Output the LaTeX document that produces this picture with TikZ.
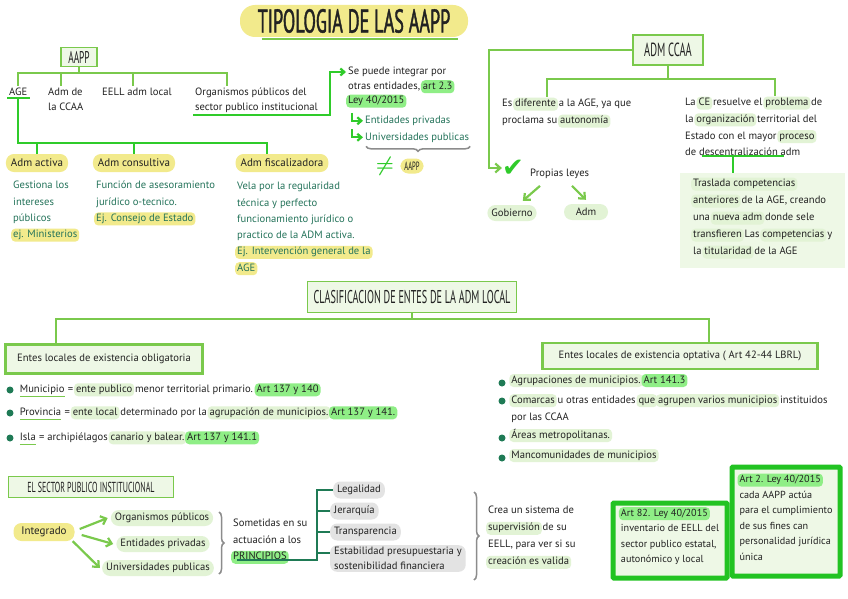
\documentclass[tikz,border=0pt]{standalone}
\usepackage{fontspec}
\setmainfont{PT Sans}
\newfontfamily\headfont[FakeStretch=0.55]{PT Sans}
\newfontfamily\titlefont[FakeStretch=0.55, FakeBold=1.2]{PT Sans}
\newfontfamily\symfont{DejaVu Sans}
\usetikzlibrary{positioning, arrows.meta, calc, decorations.pathreplacing}

\definecolor{lgreen}{HTML}{7AC94C}
\definecolor{bgreen}{HTML}{2FCB2A}
\definecolor{artgreen}{HTML}{22C322}
\definecolor{paleg}{HTML}{EEF8E6}
\definecolor{hlpale}{HTML}{E2F3D5}
\definecolor{hlbright}{HTML}{8FEE86}
\definecolor{pyellow}{HTML}{F2EA8C}
\definecolor{greyhl}{HTML}{E3E3E3}
\definecolor{tealtxt}{HTML}{24735A}
\definecolor{treeline}{HTML}{1F7A55}
\definecolor{bracegrey}{HTML}{8C8C8C}
\definecolor{inkblack}{HTML}{222222}

\newcommand{\bodysize}[1]{\fontsize{10.6}{#1}\selectfont}

\tikzset{
  hlbox/.style={draw=none, inner xsep=2pt, inner ysep=1.5pt, outer sep=0pt,
    rounded corners=4pt, minimum width=0pt, minimum height=0pt,
    text height=7.5pt, text depth=2.5pt, anchor=base},
}
% highlighted words
\newcommand{\hlp}[1]{\hspace{-2pt}\smash{\tikz[baseline=(X.base)]\node[hlbox, fill=hlpale](X){#1};}\hspace{-2pt}}
\newcommand{\hlb}[1]{\hspace{-2pt}\smash{\tikz[baseline=(X.base)]\node[hlbox, fill=hlbright](X){#1};}\hspace{-2pt}}
\newcommand{\hly}[1]{\hspace{-2pt}\smash{\tikz[baseline=(X.base)]\node[hlbox, fill=pyellow](X){#1};}\hspace{-2pt}}
\newcommand{\gul}[1]{\tikz[baseline=(X.base)]{\node[hlbox, inner xsep=0pt, fill=none](X){#1};
  \draw[lgreen, line width=1pt] (X.south west) -- (X.south east);}}

\begin{document}
\begin{tikzpicture}[x=1pt, y=1pt,
  txt/.style={inner sep=2pt, align=left, font=\bodysize{16}, text=inkblack},
  title_pill/.style={fill=pyellow, rounded corners=15pt, minimum width=228pt, minimum height=32pt,
                     font=\titlefont\fontsize{33}{33}\selectfont, text=inkblack},
  gbox/.style={draw=lgreen, fill=paleg, line width=1.8pt, inner sep=3pt, text=inkblack},
  gbox_body/.style={gbox, line width=2.2pt, font=\bodysize{12}},
  pill/.style={fill=pyellow, rounded corners=8pt, inner xsep=5pt, inner ysep=2pt, minimum height=18pt,
               font=\fontsize{11}{12}\selectfont, text=inkblack},
  pill_pale/.style={pill, fill=hlpale, inner xsep=4pt, minimum height=16pt, font=\bodysize{12}},
  pill_grey/.style={pill, fill=greyhl, inner xsep=4pt, minimum height=17pt, rounded corners=7pt,
                    font=\bodysize{15}},
  artbox/.style={draw=artgreen, line width=5pt, fill=paleg, inner xsep=7pt, inner ysep=6pt, align=left,
                 font=\fontsize{10.2}{15.5}\selectfont, text=inkblack, rounded corners=1pt},
  dot/.style={circle, fill=treeline, inner sep=0pt, minimum size=7pt},
  bus/.style={draw=lgreen, line width=2pt},
  bline/.style={draw=bgreen, line width=2.2pt},
  arrb/.style={bline, -{Straight Barb[length=4pt, width=7pt]}},
  arrl/.style={draw=lgreen, line width=2.2pt, -{Straight Barb[length=5pt, width=9pt]}},
  tree/.style={draw=treeline, line width=2pt},
  gbrace/.style={draw=bracegrey, line width=1.5pt, decorate, decoration={brace, amplitude=5pt}},
]
\fill[white] (0,0) rectangle (848,-599);
\useasboundingbox (0,0) rectangle (848,-599);

% Title
\node[title_pill] (t0) at (354,-21) {TIPOLOGIA DE LAS AAPP};
\draw[lgreen, line width=2.5pt] ([xshift=22pt, yshift=-2pt]t0.south west) -- ([xshift=-10pt, yshift=-2pt]t0.south east);

% AAPP and its four branches
\node[gbox, font=\headfont\fontsize{17}{17}\selectfont, minimum width=36pt, minimum height=19pt] (a0) at (79,-57) {AAPP};
\node[txt, anchor=base west] (a1) at (7,-95.5) {AGE};
\node[txt, anchor=north west, font=\bodysize{14.5}] (a2) at (46,-86) {Adm de\\la CCAA};
\node[txt, anchor=base west] (a3) at (100,-95.5) {EELL adm local};
\node[txt, anchor=north west, font=\bodysize{15}] (a4) at (193,-86) {Organismos públicos del\\sector publico institucional};

\draw[bus] (a0.south) -- ++(0,-6) -| (a1.north);
\draw[bus] (a0.south) -- ++(0,-6) -| ([xshift=15pt]a2.north west);
\draw[bus] (a0.south) -- ++(0,-6) -| ([xshift=33pt]a3.north west);
\draw[bus] (a0.south) -- ++(0,-6) -| ([xshift=34pt]a4.north west);

% Other entities
\node[txt, anchor=north west, font=\bodysize{14.5}] (a5) at (346,-65)
  {Se puede integrar por\\otras entidades, \hlb{art 2.3}\\\hlb{Ley 40/2015}};
\node[txt, text=tealtxt, anchor=base west] (a6) at (363,-123.5) {Entidades privadas};
\node[txt, text=tealtxt, anchor=base west] (a7) at (363,-140) {Universidades publicas};
\node[inner sep=0pt, text=bgreen, font=\fontsize{20}{20}\selectfont\boldmath] (a8) at (385,-166) {$\neq$};
\node[pill, right=6pt of a8, minimum height=15pt, inner xsep=4pt, font=\headfont\fontsize{12}{12}\selectfont] (a9) {AAPP};

\draw[arrb] (a4.south west) -- ++(137,0) |- ([yshift=-7pt]a5.north west);
\draw[arrb] ([xshift=-11pt, yshift=8pt]a6.west) |- (a6.west);
\draw[arrb] ([xshift=-11pt, yshift=8pt]a7.west) |- (a7.west);
\draw[gbrace] ([xshift=-1pt, yshift=-2pt]a7.south east) -- ([xshift=3pt, yshift=-2pt]a7.south west);

% Types of administration
\node[pill] (b1) at (37,-163) {Adm activa};
\node[pill] (b2) at (134,-163) {Adm consultiva};
\node[pill] (b3) at (282,-163) {Adm fiscalizadora};

\draw[bline] (a1.south west) -- (a1.south east);
\draw[bline] (a1.south) -- ++(0,-45) -| (b1.north);
\draw[bline] (a1.south) -- ++(0,-45) -| (b2.north);
\draw[bline] (a1.south) -- ++(0,-45) -| ([xshift=-15pt]b3.north);

\node[txt, text=tealtxt, anchor=north west, font=\bodysize{16.3}] (b4) at (11,-179)
  {Gestiona los\\intereses\\públicos\\\hly{ej. Ministerios}};
\node[txt, text=tealtxt, anchor=north west, font=\bodysize{16.3}] (b5) at (94,-179)
  {Función de asesoramiento\\jurídico o-tecnico.\\\hly{Ej. Consejo de Estado}};
\node[txt, text=tealtxt, anchor=north west, font=\bodysize{16.3}] (b6) at (235,-180)
  {Vela por la regularidad\\técnica y perfecto\\funcionamiento jurídico o\\practico de la ADM activa.\\\hly{Ej. Intervención general de la}\\\hly{AGE}};

% ADM CCAA
\node[gbox, font=\headfont\fontsize{19}{19}\selectfont, minimum width=70pt, minimum height=30pt] (c0) at (668,-50) {ADM CCAA};
\node[txt, anchor=north west, font=\bodysize{17}] (c1) at (500,-97)
  {Es \hlp{diferente} a la AGE, ya que\\proclama su \hlp{autonomía}};
\node[txt, anchor=north west, font=\bodysize{16.7}] (c2) at (683,-96)
  {La \hlp{CE} resuelve el \hlp{problema} de\\la \hlp{organización} territorial del\\Estado con el mayor \hlp{proceso}\\de descentralización adm};
\node[txt, anchor=north west, fill=paleg, inner sep=5pt, minimum width=165pt, minimum height=95pt,
      font=\bodysize{17}] (c4) at (680,-173)
  {\hlp{Traslada competencias}\\\hlp{anteriores} de la AGE, creando\\una \hlp{nueva adm} donde sele\\\hlp{transfieren} Las \hlp{competencias} y\\la \hlp{titularidad} de la AGE};
\node[inner sep=0pt, text=bgreen, font=\symfont\fontsize{26}{26}\selectfont] (c5) at (513,-168) {✔};
\node[txt, anchor=base west] (c6) at (528,-176.5) {Propias leyes};
\node[pill_pale] (c7) at (512,-213) {Gobierno};
\node[pill_pale, minimum width=44pt] (c8) at (586,-212) {Adm};

\draw[bus] (c0.south) -- ++(0,-13) -| ([xshift=47pt]c1.north west);
\draw[bus] (c0.south) -- ++(0,-13) -| ([xshift=92pt]c2.north west);
\coordinate (c3) at ([xshift=19pt, yshift=2pt]c2.south west);
\coordinate (c3b) at ([xshift=31pt]c3);
\draw[bline] (c3) -- ++(82,0);
\draw[bline] (c3b) -- (c3b |- c4.north);
\draw[arrl] (c0.west) -| ([xshift=-13pt]c5.west) -- (c5.west);
\draw[arrl] ([xshift=12pt, yshift=-5pt]c6.south west) -- ([xshift=-14pt, yshift=4pt]c7.north east);
\draw[arrl] ([xshift=44pt, yshift=-5pt]c6.south west) -- ([yshift=4pt]c8.north);

% Local entities
\node[gbox, font=\headfont\fontsize{18.5}{18.5}\selectfont, minimum width=209pt, minimum height=31pt] (d0) at (412,-297)
  {CLASIFICACION DE ENTES DE LA ADM LOCAL};
\node[gbox_body, minimum width=197pt, minimum height=29pt] (d1) at (104,-359) {Entes locales de existencia obligatoria};
\node[gbox_body, minimum width=275pt, minimum height=26pt] (d2) at (680,-356) {Entes locales de existencia optativa ( Art 42-44 LBRL)};

\draw[bus] (d0.south) -- ++(0,-6) -| ([xshift=52pt]d1.north west);
\draw[bus] (d0.south) -- ++(0,-6) -| ([xshift=168pt]d2.north west);

\node[dot] (e1) at (10,-390) {};
\node[txt, right=3.5pt of e1] (e2) {\gul{Municipio} = \hlp{ente publico} menor territorial primario. \hlb{Art 137 y 140}};
\node[dot] (e3) at (10,-413) {};
\node[txt, right=3.5pt of e3] (e4) {\gul{Provincia} = \hlp{ente local} determinado por la \hlp{agrupación de municipios.} \hlb{Art 137 y 141.}};
\node[dot] (e5) at (10,-438) {};
\node[txt, right=3.5pt of e5] (e6) {\gul{Isla} = archipiélagos \hlp{canario y balear.} \hlb{Art 137 y 141.1}};

\node[dot] (f1) at (502,-383) {};
\node[txt, right=3.5pt of f1] (f2) {\hlp{Agrupaciones de municipios.} \hlb{Art 141.3}};
\node[dot] (f3) at (502,-401) {};
\node[txt, right=3.5pt of f3, anchor=north west, yshift=7.5pt, font=\bodysize{17}] (f4)
  {\hlp{Comarcas} u otras entidades \hlp{que} \hlp{agrupen varios municipios} instituidos\\por las CCAA};
\node[dot] (f5) at (502,-438) {};
\node[txt, right=3.5pt of f5] (f6) {\hlp{Áreas metropolitanas.}};
\node[dot] (f7) at (502,-458) {};
\node[txt, right=3.5pt of f7] (f8) {\hlp{Mancomunidades de municipios}};

% Institutional public sector
\node[gbox, font=\headfont\fontsize{14.5}{14.5}\selectfont, minimum width=165pt, minimum height=21pt] (g0) at (91,-487)
  {EL SECTOR PUBLICO INSTITUCIONAL};
\node[pill, minimum width=61pt] (g1) at (44,-532) {Integrado};
\node[pill_pale] (g2) at (162,-518) {Organismos públicos};
\node[pill_pale] (g3) at (163,-544) {Entidades privadas};
\node[pill_pale] (g4) at (158,-568) {Universidades publicas};

\draw[arrl] ([xshift=5pt, yshift=3pt]g1.east) -- ([xshift=-3pt]g2.west);
\draw[arrl] ([xshift=7pt, yshift=-3pt]g1.east) -- ([xshift=-3pt]g3.west);
\draw[arrl] ([xshift=-2pt]g1.south east) -- ([xshift=-2pt]g4.west);
\draw[gbrace] (219,-512) -- (219,-574);

% Principles
\node[txt, anchor=north west, font=\bodysize{16.5}] (h0) at (231,-517)
  {Sometidas en su\\actuación a los\\\hlb{PRINCIPIOS}};
\node[pill_grey, anchor=west] (h3) at (333,-490) {Legalidad};
\node[pill_grey, anchor=west] (h4) at (330,-511) {Jerarquía};
\node[pill_grey, anchor=west] (h5) at (330,-532) {Transparencia};
\node[pill_grey, anchor=north west, align=left] (h6) at (330,-545) {Estabilidad presupuestaria y\\sostenibilidad financiera};

\coordinate (h1) at ([xshift=6pt, yshift=2pt]h0.south west);
\coordinate (h2) at ($(h1)+(80,0)$);
\draw[tree] (h1) -- (h2) |- (h3.west);
\draw[tree] (h2 |- h4.west) -- (h4.west);
\draw[tree] (h2 |- h5.west) -- (h5.west);
\draw[tree] (h2 |- h6.west) ++(0,6) -- ([yshift=6pt]h6.west);

\draw[gbrace] (474,-492) -- (474,-580);
\node[txt, anchor=north west, font=\bodysize{17}] (h7) at (486,-504)
  {Crea un sistema de\\\hlp{supervisión} de su\\EELL, para ver si su\\\hlp{creación es valida}};

% Law articles
\node[artbox, anchor=north west, minimum width=114pt, minimum height=75pt] (k1) at (610.5,-500.5)
  {\hlb{Art 82. Ley 40/2015}\\inventario de EELL del\\sector publico estatal,\\autonómico y local};
\node[artbox, anchor=north west, minimum width=108pt, minimum height=109pt] (k2) at (729.5,-464.5)
  {\hlb{Art 2. Ley 40/2015}\\cada AAPP actúa\\para el cumplimiento\\de sus fines can\\personalidad jurídica\\única};

\end{tikzpicture}
\end{document}
